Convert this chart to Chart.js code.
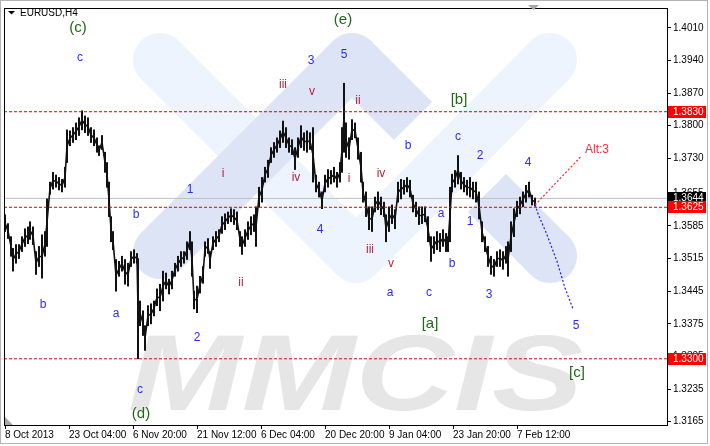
<!DOCTYPE html>
<html>
<head>
<meta charset="utf-8">
<script src="https://cdn.jsdelivr.net/npm/chart.js@4.4.1/dist/chart.umd.min.js"></script>
<style>
html, body { margin: 0; padding: 0; background: #fff; }
canvas { display: block; }
</style>
</head>
<body>
<canvas id="eurusd-chart" width="710" height="446"></canvas>
<script>
// H4 bar number (from the left edge of the window) and its high / low
let barIndex = [
  1, 4, 7, 9, 12, 15, 18, 21, 24, 26,
  29, 32, 35, 38, 41, 43, 46, 49, 52, 55,
  58, 61, 63, 66, 69, 72, 75, 78, 81, 84,
  87, 90, 93, 95, 98, 101, 103, 105, 107, 109,
  112, 115, 118, 121, 124, 127, 130, 133, 134, 136,
  139, 141, 144, 147, 150, 153, 156, 159, 162, 165,
  168, 171, 174, 177, 180, 183, 186, 188, 190, 193,
  196, 199, 201, 204, 206, 209, 212, 215, 218, 221,
  224, 227, 230, 233, 236, 238, 241, 244, 247, 250,
  252, 255, 258, 261, 264, 267, 270, 273, 276, 279,
  282, 285, 288, 291, 294, 297, 300, 303, 306, 309,
  312, 315, 318, 321, 324, 327, 330, 333, 336, 338,
  340, 342, 345, 348, 351, 354, 357, 359, 362, 365,
  368, 371, 374, 377, 380, 382, 385, 388, 391, 394,
  397, 400, 403, 406, 409, 412, 415, 418, 421, 424,
  427, 430, 433, 436, 439, 442, 444, 446, 448, 451,
  454, 457, 460, 463, 466, 469, 472, 475, 478, 481,
  484, 487, 490, 493, 496, 499, 502, 504, 507, 510,
  513, 516, 519, 522, 525, 528, 531
];
let barHigh = [
  1.3609, 1.3590, 1.3562, 1.3537, 1.3545, 1.3545, 1.3562, 1.3579, 1.3583, 1.3594,
  1.3583, 1.3530, 1.3541, 1.3566, 1.3573, 1.3643, 1.3679, 1.3700, 1.3694, 1.3689,
  1.3685, 1.3711, 1.3791, 1.3789, 1.3796, 1.3806, 1.3817, 1.3832, 1.3821, 1.3817,
  1.3796, 1.3791, 1.3774, 1.3757, 1.3779, 1.3743, 1.3721, 1.3679, 1.3605, 1.3573,
  1.3513, 1.3509, 1.3520, 1.3513, 1.3505, 1.3530, 1.3534, 1.3526, 1.3515, 1.3424,
  1.3403, 1.3371, 1.3414, 1.3418, 1.3424, 1.3450, 1.3460, 1.3488, 1.3484, 1.3471,
  1.3488, 1.3505, 1.3520, 1.3530, 1.3530, 1.3551, 1.3573, 1.3551, 1.3445, 1.3456,
  1.3477, 1.3498, 1.3551, 1.3558, 1.3530, 1.3562, 1.3573, 1.3577, 1.3605, 1.3611,
  1.3615, 1.3622, 1.3620, 1.3615, 1.3573, 1.3562, 1.3577, 1.3594, 1.3605, 1.3609,
  1.3626, 1.3668, 1.3689, 1.3711, 1.3726, 1.3753, 1.3764, 1.3774, 1.3789, 1.3810,
  1.3796, 1.3774, 1.3770, 1.3753, 1.3774, 1.3800, 1.3785, 1.3789, 1.3785, 1.3796,
  1.3694, 1.3679, 1.3658, 1.3694, 1.3706, 1.3704, 1.3711, 1.3700, 1.3721, 1.3796,
  1.3891, 1.3806, 1.3774, 1.3813, 1.3806, 1.3774, 1.3743, 1.3679, 1.3658, 1.3626,
  1.3626, 1.3647, 1.3658, 1.3647, 1.3636, 1.3609, 1.3626, 1.3630, 1.3620, 1.3679,
  1.3685, 1.3683, 1.3689, 1.3683, 1.3651, 1.3636, 1.3626, 1.3626, 1.3626, 1.3605,
  1.3562, 1.3562, 1.3573, 1.3569, 1.3577, 1.3569, 1.3562, 1.3668, 1.3696, 1.3704,
  1.3736, 1.3700, 1.3689, 1.3683, 1.3689, 1.3679, 1.3679, 1.3658, 1.3594, 1.3562,
  1.3541, 1.3520, 1.3513, 1.3530, 1.3534, 1.3530, 1.3541, 1.3551, 1.3594, 1.3622,
  1.3638, 1.3647, 1.3658, 1.3672, 1.3679, 1.3651, 1.3645
];
let barLow = [
  1.3573, 1.3558, 1.3520, 1.3488, 1.3505, 1.3515, 1.3530, 1.3541, 1.3547, 1.3556,
  1.3545, 1.3481, 1.3498, 1.3473, 1.3520, 1.3541, 1.3653, 1.3664, 1.3668, 1.3662,
  1.3658, 1.3668, 1.3721, 1.3757, 1.3764, 1.3770, 1.3779, 1.3791, 1.3785, 1.3779,
  1.3764, 1.3757, 1.3743, 1.3736, 1.3749, 1.3700, 1.3668, 1.3605, 1.3551, 1.3534,
  1.3445, 1.3477, 1.3488, 1.3460, 1.3456, 1.3498, 1.3505, 1.3505, 1.3300, 1.3371,
  1.3350, 1.3318, 1.3371, 1.3375, 1.3392, 1.3414, 1.3403, 1.3424, 1.3450, 1.3439,
  1.3450, 1.3477, 1.3488, 1.3498, 1.3505, 1.3513, 1.3534, 1.3477, 1.3407, 1.3399,
  1.3441, 1.3462, 1.3520, 1.3526, 1.3494, 1.3534, 1.3541, 1.3551, 1.3569, 1.3577,
  1.3590, 1.3594, 1.3588, 1.3577, 1.3541, 1.3524, 1.3541, 1.3556, 1.3566, 1.3573,
  1.3541, 1.3626, 1.3636, 1.3679, 1.3689, 1.3721, 1.3732, 1.3743, 1.3753, 1.3764,
  1.3753, 1.3743, 1.3738, 1.3706, 1.3732, 1.3753, 1.3747, 1.3743, 1.3749, 1.3679,
  1.3658, 1.3647, 1.3622, 1.3658, 1.3668, 1.3675, 1.3679, 1.3668, 1.3679, 1.3700,
  1.3743, 1.3732, 1.3728, 1.3770, 1.3774, 1.3728, 1.3679, 1.3636, 1.3605, 1.3577,
  1.3573, 1.3615, 1.3620, 1.3609, 1.3605, 1.3551, 1.3573, 1.3590, 1.3579, 1.3636,
  1.3643, 1.3653, 1.3658, 1.3647, 1.3615, 1.3605, 1.3588, 1.3590, 1.3594, 1.3551,
  1.3509, 1.3526, 1.3534, 1.3530, 1.3541, 1.3530, 1.3530, 1.3551, 1.3658, 1.3668,
  1.3675, 1.3664, 1.3658, 1.3651, 1.3647, 1.3643, 1.3636, 1.3600, 1.3551, 1.3530,
  1.3498, 1.3481, 1.3477, 1.3498, 1.3498, 1.3492, 1.3505, 1.3477, 1.3530, 1.3562,
  1.3605, 1.3611, 1.3626, 1.3636, 1.3647, 1.3630, 1.3628
];

// horizontal levels and last price
let levelPrices = [1.3830, 1.3625, 1.3300];
let lastPrice = 1.3644;

// axes
let priceTicks = [1.4010, 1.3940, 1.3870, 1.3800, 1.3730, 1.3655, 1.3585, 1.3515, 1.3445, 1.3375, 1.3305, 1.3235, 1.3165];
let timeTickIndex = [1, 65, 129, 193, 257, 321, 385, 449, 513];
let timeTickLabels = ['8 Oct 2013', '23 Oct 04:00', '6 Nov 20:00', '21 Nov 12:00', '6 Dec 04:00', '20 Dec 20:00', '9 Jan 04:00', '23 Jan 20:00', '7 Feb 12:00'];

// forecast paths
let altIndex = [531, 577];
let altPrice = [1.3630, 1.3734];
let mainIndex = [531, 534, 543, 553, 561, 569];
let mainPrice = [1.3630, 1.3611, 1.3566, 1.3509, 1.3452, 1.3407];

// wave marks
let waveText = ['(c)', 'c', 'b', 'a', 'b', 'c', '(d)', '1', 'i', '2',
  'ii', 'iii', '3', 'v', '5', '(e)', 'ii', 'iv', '4', 'i',
  'iv', 'iii', 'v', 'b', 'a', 'c', '[a]', '[b]', 'c', 'a',
  '2', '1', 'b', '3', '4', 'Alt:3', '5', '[c]'];
let waveIndex = [74, 76, 39, 112, 132, 136, 137, 186, 219, 193,
  237, 279, 307, 308, 340, 339, 354, 292, 316, 345,
  377, 366, 387, 404, 386, 425, 426, 455, 454, 437,
  476, 466, 448, 485, 524, 593, 572, 573];
let wavePrice = [1.4010, 1.3946, 1.3416, 1.3396, 1.3609, 1.3233, 1.3182, 1.3662, 1.3698, 1.3346,
  1.3464, 1.3887, 1.3940, 1.3874, 1.3953, 1.4027, 1.3853, 1.3689, 1.3577, 1.3687,
  1.3698, 1.3534, 1.3505, 1.3757, 1.3441, 1.3441, 1.3375, 1.3855, 1.3777, 1.3611,
  1.3736, 1.3594, 1.3505, 1.3437, 1.3721, 1.3749, 1.3371, 1.3269];
let waveKind = ['major', 'minor', 'minor', 'minor', 'minor', 'minor', 'major', 'minor', 'roman', 'minor',
  'roman', 'roman', 'minor', 'roman', 'minor', 'major', 'roman', 'roman', 'minor', 'roman',
  'roman', 'roman', 'roman', 'minor', 'minor', 'minor', 'major', 'major', 'minor', 'minor',
  'minor', 'minor', 'minor', 'minor', 'minor', 'alt', 'minor', 'major'];

let kindColor = { minor: '#2b2bff', roman: '#b3263a', major: '#1f6a14', alt: '#ff2b3a' };
let kindFont = { minor: '12px "Liberation Sans"', roman: '12px "Liberation Sans"', major: '15px "Liberation Sans"', alt: '12px "Liberation Sans"' };

let axisFont = { family: 'Liberation Sans', size: 10 };

function flatLine(price) {
  return [{ x: 0, y: price }, { x: 663, y: price }];
}

// background logo of the data provider
const watermark = {
  id: 'watermark',
  beforeDatasetsDraw(chart) {
    let ctx = chart.ctx;
    let a = chart.chartArea;
    ctx.save();
    ctx.beginPath();
    ctx.rect(a.left, a.top, a.right - a.left, a.bottom - a.top);
    ctx.clip();

    ctx.lineWidth = 54;
    ctx.lineJoin = 'round';
    ctx.lineCap = 'round';
    ctx.strokeStyle = '#edf4fd';
    ctx.beginPath();
    ctx.moveTo(160, 60);
    ctx.lineTo(356, 256);
    ctx.lineTo(550, 60);
    ctx.stroke();

    ctx.strokeStyle = '#dce4f6';
    ctx.beginPath();
    ctx.moveTo(160, 252);
    ctx.lineTo(352, 60);
    ctx.stroke();
    ctx.lineCap = 'butt';
    ctx.beginPath();
    ctx.moveTo(352, 60);
    ctx.lineTo(413, 121);
    ctx.stroke();
    ctx.beginPath();
    ctx.moveTo(487, 193);
    ctx.lineTo(550, 256);
    ctx.stroke();
    ctx.fillStyle = '#dce4f6';
    ctx.beginPath();
    ctx.arc(550, 256, 27, 0, Math.PI * 2);
    ctx.fill();

    ctx.fillStyle = '#e6e6e6';
    ctx.font = 'italic bold 108px "Liberation Sans"';
    ctx.textBaseline = 'alphabetic';
    ctx.textAlign = 'left';
    let w = ctx.measureText('MMCIS').width;
    ctx.translate(128, 410);
    ctx.scale(455 / w, 1);
    ctx.fillText('MMCIS', 0, 0);
    ctx.restore();
  }
};

// texts, price boxes and frame
const overlay = {
  id: 'overlay',
  afterDraw(chart) {
    let ctx = chart.ctx;
    let xs = chart.scales.x;
    let ys = chart.scales.y;
    let a = chart.chartArea;
    ctx.save();

    ctx.textAlign = 'center';
    ctx.textBaseline = 'middle';
    waveText.forEach(function(t, i) {
      ctx.font = kindFont[waveKind[i]];
      ctx.fillStyle = kindColor[waveKind[i]];
      ctx.fillText(t, xs.getPixelForValue(waveIndex[i]), ys.getPixelForValue(wavePrice[i]));
    });

    // price boxes on the right axis
    function priceBox(p, bg) {
      let y = Math.round(ys.getPixelForValue(p));
      ctx.fillStyle = bg;
      ctx.fillRect(a.right + 1, y - 6, 38, 12);
      ctx.fillStyle = '#fff';
      ctx.font = '10px "Liberation Sans"';
      ctx.textAlign = 'left';
      ctx.fillText(p.toFixed(4), a.right + 6, y);
    }
    priceBox(levelPrices[0], '#ff0000');
    priceBox(levelPrices[2], '#ff0000');
    priceBox(lastPrice, '#000000');
    priceBox(levelPrices[1], '#ff0000');

    // window frame
    ctx.strokeStyle = '#000';
    ctx.lineWidth = 1;
    ctx.strokeRect(a.left + 0.5, a.top + 0.5, a.right - a.left, a.bottom - a.top);
    ctx.strokeStyle = '#b4b4b4';
    ctx.strokeRect(0.5, 0.5, 707, 443);

    // symbol caption
    ctx.fillStyle = '#000';
    ctx.beginPath();
    ctx.moveTo(8, 11);
    ctx.lineTo(15, 11);
    ctx.lineTo(11.5, 14.5);
    ctx.closePath();
    ctx.fill();
    ctx.font = '10px "Liberation Sans"';
    ctx.textAlign = 'left';
    ctx.fillText('EURUSD,H4', 20, 13);

    // chart shift markers
    ctx.fillStyle = '#a8a8a8';
    ctx.beginPath();
    ctx.moveTo(528, 5);
    ctx.lineTo(539, 5);
    ctx.lineTo(533.5, 10);
    ctx.closePath();
    ctx.fill();
    ctx.beginPath();
    ctx.moveTo(5, 417);
    ctx.lineTo(5, 425);
    ctx.lineTo(13, 425);
    ctx.closePath();
    ctx.fill();
    ctx.restore();
  }
};

let chartCanvas = document.querySelector('#eurusd-chart');
let contex = chartCanvas.getContext('2d');

let levelSets = levelPrices.map(function(p) {
  return {
    type: 'line', data: flatLine(p), borderColor: '#dd0000', borderWidth: 1,
    borderDash: [3, 2], pointRadius: 0, order: 0
  };
});

// middle of each bar, joins the bars into one jagged price line
let barMid = barIndex.map(function(v, i) { return { x: v, y: (barLow[i] + barHigh[i]) / 2 }; });

let priceChart = new Chart(contex, {
  type: 'bar',
  data: {
    datasets: [
      {
        type: 'line', data: flatLine(lastPrice), borderColor: '#c0c0c0', borderWidth: 1,
        pointRadius: 0, order: 3
      },
      {
        label: 'EURUSD,H4',
        data: barIndex.map(function(v, i) { return { x: v, y: [barLow[i], barHigh[i]] }; }),
        backgroundColor: '#111',
        borderWidth: 0,
        barThickness: 1.4,
        order: 2
      },
      {
        type: 'line', data: barMid, borderColor: '#111', borderWidth: 1.6,
        pointRadius: 0, tension: 0, order: 2
      }
    ].concat(levelSets, [
      {
        type: 'line', data: altIndex.map(function(v, i) { return { x: v, y: altPrice[i] }; }),
        borderColor: '#ff2020', borderWidth: 1.2, borderDash: [2, 2], pointRadius: 0, order: 0
      },
      {
        type: 'line', data: mainIndex.map(function(v, i) { return { x: v, y: mainPrice[i] }; }),
        borderColor: '#1c1cff', borderWidth: 1.2, borderDash: [2, 2], pointRadius: 0, order: 0
      }
    ])
  },
  options: {
    responsive: false,
    animation: false,
    devicePixelRatio: 1,
    layout: { padding: { left: 4, top: 4, right: 0, bottom: 0 } },
    plugins: { legend: { display: false }, tooltip: { enabled: false } },
    scales: {
      x: {
        type: 'linear', min: 0, max: 663, offset: false,
        grid: { drawOnChartArea: false, tickLength: 4, color: '#000', offset: false },
        border: { color: '#000' },
        ticks: {
          autoSkip: false, maxRotation: 0, align: 'start', padding: 0, color: '#000', font: axisFont,
          callback: function(v, i) { return timeTickLabels[i]; }
        },
        afterBuildTicks: function(s) { s.ticks = timeTickIndex.map(function(v) { return { value: v }; }); },
        afterFit: function(s) { s.height = 21; }
      },
      y: {
        position: 'right', min: 1.3158, max: 1.40525,
        grid: { drawOnChartArea: false, tickLength: 4, color: '#000' },
        border: { color: '#000' },
        ticks: {
          padding: 2, color: '#000', font: axisFont,
          callback: function(v) { return v.toFixed(4); }
        },
        afterBuildTicks: function(s) { s.ticks = priceTicks.map(function(v) { return { value: v }; }); },
        afterFit: function(s) { s.width = 43; }
      }
    }
  },
  plugins: [watermark, overlay]
});
</script>
</body>
</html>
